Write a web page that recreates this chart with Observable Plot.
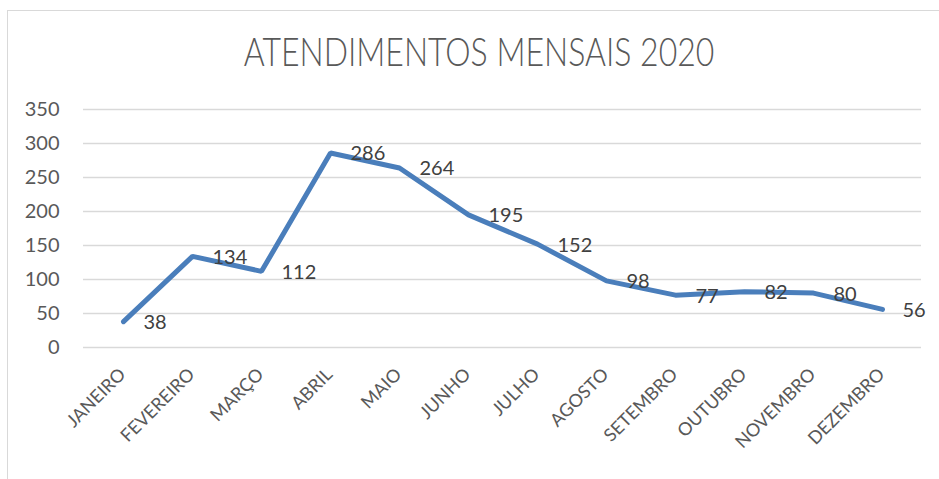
<!DOCTYPE html>
<html><head><meta charset="utf-8">
<script src="https://cdn.jsdelivr.net/npm/d3@7"></script>
<script src="https://cdn.jsdelivr.net/npm/@observablehq/plot@0.6"></script>
<style>
body{margin:0;background:#fff;font-family:Lato,"Open Sans",sans-serif;}
#wrap{position:relative;width:939px;height:479px;overflow:hidden;}
#frame{position:absolute;left:7px;top:10px;width:960px;height:500px;border:1px solid #d9d9d9;box-sizing:border-box;}
#title{position:absolute;left:0;top:27px;width:958px;text-align:center;font-size:40px;line-height:48px;font-weight:300;color:#595959;font-family:Lato,"Open Sans",sans-serif;transform:scaleX(0.8);transform-origin:479px 0;}
#chart{position:absolute;left:0;top:0;}
</style></head>
<body>
<div id="wrap"><div id="frame"></div><div id="title">ATENDIMENTOS MENSAIS 2020</div><div id="chart"></div></div>
<script>
const months = ["JANEIRO","FEVEREIRO","MARÇO","ABRIL","MAIO","JUNHO","JULHO","AGOSTO","SETEMBRO","OUTUBRO","NOVEMBRO","DEZEMBRO"];
const values = [38,134,112,286,264,195,152,98,77,82,80,56];
const yTicks = [0,50,100,150,200,250,300,350];
const data = months.map((m,i)=>({month:m,value:values[i]}));
const chart = Plot.plot({
  width:939, height:479,
  marginLeft:83, marginRight:18, marginTop:109, marginBottom:132,
  style:{fontFamily:"Lato, 'Open Sans', sans-serif", fontSize:"18px", color:"#595959", background:"transparent"},
  x:{type:"point", domain:months, padding:0.5, label:null},
  y:{domain:[0,350], label:null},
  marks:[
    Plot.gridY(yTicks,{stroke:"#d9d9d9", strokeOpacity:1, strokeWidth:1.5}),
    Plot.axisY(yTicks,{tickSize:0, tickPadding:24, label:null, fontSize:20, fill:"#595959"}),
    Plot.axisX({tickSize:0, tickRotate:-45, tickPadding:24, dx:-1, label:null, fontSize:18, fill:"#595959"}),
    Plot.line(data,{x:"month", y:"value", stroke:"#4a7ebb", strokeWidth:5, strokeLinejoin:"miter"}),
    Plot.text(data,{x:"month", y:"value", text:d=>String(d.value), textAnchor:"start", dx:20, dy:1, fontSize:20, fill:"#404040"})
  ]
});
document.getElementById("chart").appendChild(chart);
</script>
</body></html>
